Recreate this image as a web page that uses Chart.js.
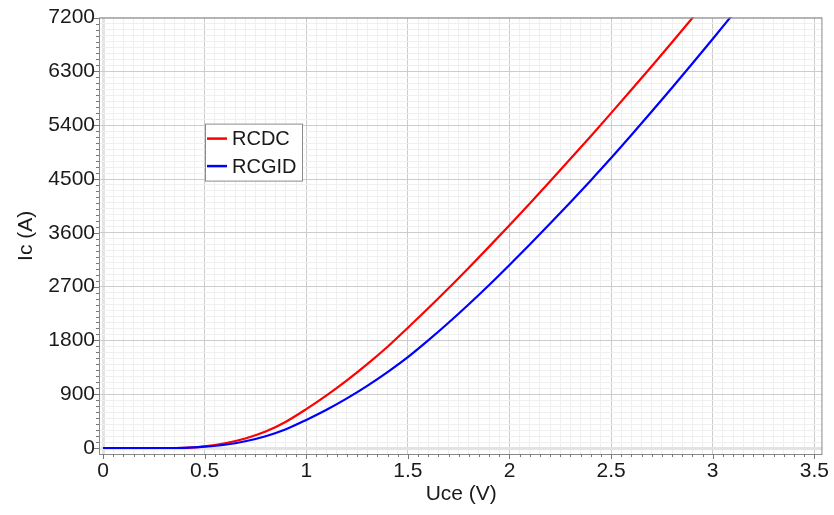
<!DOCTYPE html>
<html>
<head>
<meta charset="utf-8">
<script src="https://cdn.jsdelivr.net/npm/chart.js@4.4.1/dist/chart.umd.min.js"></script>
<style>
  html, body { margin: 0; padding: 0; background: #fff; }
  #wrap { width: 834px; height: 515px; }
</style>
</head>
<body>
<div id="wrap"><canvas id="icChart" width="834" height="515"></canvas></div>
<script>
// Collector-emitter voltage samples (V)
var uceRCDC  = [0, 0.1, 0.2, 0.3, 0.4, 0.5, 0.6, 0.7, 0.8, 0.9, 1.0, 1.1, 1.2, 1.3, 1.4, 1.5,
                1.6, 1.7, 1.8, 1.9, 2.0, 2.1, 2.2, 2.3, 2.4, 2.5, 2.6, 2.7, 2.8, 2.9, 3.0];
var uceRCGID = [0, 0.1, 0.2, 0.3, 0.4, 0.5, 0.6, 0.7, 0.8, 0.9, 1.0, 1.1, 1.2, 1.3, 1.4, 1.5,
                1.6, 1.7, 1.8, 1.9, 2.0, 2.1, 2.2, 2.3, 2.4, 2.5, 2.6, 2.7, 2.8, 2.9, 3.0, 3.1];

// Collector current (A)
var icRCDC  = [0, 0, 0, 0, 4, 28, 80, 160, 275, 440, 650, 880, 1130, 1402, 1694, 2012,
               2337, 2672, 3017, 3369, 3727, 4092, 4462, 4837, 5217, 5602, 5992, 6387, 6787, 7192, 7602];
var icRCGID = [0, 0, 0, 0, 3, 22, 55, 113, 198, 315, 470, 640, 830, 1040, 1270, 1520,
               1800, 2095, 2405, 2727, 3062, 3405, 3755, 4112, 4477, 4850, 5235, 5628, 6028, 6433, 6843, 7258];

var seriesNames = ["RCDC", "RCGID"];
var seriesColors = ["#ff0000", "#0000ff"];

// axis ticks: majors carry labels, minors only grid
var xMajorStep = 0.5, xMinorStep = 0.05, xMaxTick = 3.5;
var yMajorStep = 900, yMinorStep = 100, yMaxTick = 7200;

var FONT = "'Liberation Sans', Arial, sans-serif";

function pts(xs, ys) {
  return xs.map(function (x, i) { return { x: x, y: ys[i] }; });
}

function isMajor(v, step) {
  var r = v / step;
  return Math.abs(r - Math.round(r)) < 1e-6;
}

function buildTicks(step, max) {
  var out = [];
  var n = Math.round(max / step);
  for (var i = 0; i <= n; i++) out.push({ value: +(i * step).toFixed(4) });
  return out;
}

function gridColor(step) {
  return function (ctx) {
    var v = ctx.tick ? ctx.tick.value : 0;
    if (v === 0) return '#e3e3e3';
    return isMajor(v, step) ? '#cccccc' : '#efefef';
  };
}
function gridWidth(ctx) {
  return ctx.tick && ctx.tick.value === 0 ? 3 : 1;
}

// frame, small tick marks and the boxed legend
var decorations = {
  id: 'decorations',
  afterDraw: function (chart) {
    var c = chart.ctx, a = chart.chartArea;
    var xs = chart.scales.x, ys = chart.scales.y;
    c.save();
    c.strokeStyle = '#8a8a8a';
    c.lineWidth = 1;
    c.strokeRect(a.left - 0.5, a.top + 0.5, a.right - a.left, a.bottom - a.top);

    c.strokeStyle = '#777';
    c.beginPath();
    xs.ticks.forEach(function (t) {
      var px = Math.round(xs.getPixelForValue(t.value)) + 0.5;
      var len = isMajor(t.value, xMajorStep) ? 5 : 3;
      c.moveTo(px, a.bottom);
      c.lineTo(px, a.bottom + len);
    });
    ys.ticks.forEach(function (t) {
      var py = Math.round(ys.getPixelForValue(t.value)) + 0.5;
      var len = isMajor(t.value, yMajorStep) ? 5 : 3;
      c.moveTo(a.left - 1, py);
      c.lineTo(a.left - 1 - len, py);
    });
    c.stroke();

    // legend box
    var bx = a.left + 105, by = a.top + 106, bw = 97, bh = 57;
    c.fillStyle = '#fff';
    c.fillRect(bx, by, bw, bh);
    c.strokeStyle = '#8a8a8a';
    c.strokeRect(bx + 0.5, by + 0.5, bw, bh);
    c.font = '20px ' + FONT;
    c.textBaseline = 'middle';
    chart.data.datasets.forEach(function (ds, i) {
      var ly = by + 15 + i * 27.5;
      c.strokeStyle = ds.borderColor;
      c.lineWidth = 2.5;
      c.beginPath();
      c.moveTo(bx + 2, ly);
      c.lineTo(bx + 22, ly);
      c.stroke();
      c.fillStyle = '#1a1a1a';
      c.fillText(ds.label, bx + 27, ly + 1);
    });
    c.restore();
  }
};

var ctx = document.getElementById('icChart').getContext('2d');
var icChart = new Chart(ctx, {
  type: 'line',
  data: {
    datasets: [{
      label: seriesNames[0],
      data: pts(uceRCDC, icRCDC),
      borderColor: seriesColors[0],
      borderWidth: 2.2,
      pointRadius: 0,
      cubicInterpolationMode: 'monotone',
      order: 1,
      clip: 0
    }, {
      label: seriesNames[1],
      data: pts(uceRCGID, icRCGID),
      borderColor: seriesColors[1],
      borderWidth: 2.2,
      pointRadius: 0,
      cubicInterpolationMode: 'monotone',
      order: 0,
      clip: 0
    }]
  },
  options: {
    responsive: false,
    animation: false,
    layout: { padding: { top: 13, right: 9, left: 0, bottom: 0 } },
    plugins: {
      legend: { display: false },
      tooltip: { enabled: false }
    },
    scales: {
      x: {
        type: 'linear',
        min: -0.015,
        max: 3.54,
        afterBuildTicks: function (scale) { scale.ticks = buildTicks(xMinorStep, xMaxTick); },
        afterFit: function (scale) { scale.height = 61; },
        grid: { color: gridColor(xMajorStep), lineWidth: gridWidth, drawTicks: false },
        border: { display: false },
        ticks: {
          autoSkip: false,
          maxRotation: 0,
          padding: 5,
          color: '#1a1a1a',
          font: { family: FONT, size: 21 },
          callback: function (v) { return isMajor(v, xMajorStep) ? String(+v.toFixed(2)) : ''; }
        },
        title: {
          display: true,
          text: 'Uce (V)',
          color: '#1a1a1a',
          font: { family: FONT, size: 21 },
          padding: { top: 0, bottom: 8 }
        }
      },
      y: {
        type: 'linear',
        min: -100,
        max: 7200,
        afterBuildTicks: function (scale) { scale.ticks = buildTicks(yMinorStep, yMaxTick); },
        afterFit: function (scale) { scale.width = 100; },
        grid: { color: gridColor(yMajorStep), lineWidth: gridWidth, drawTicks: false },
        border: { display: false },
        ticks: {
          autoSkip: false,
          padding: 5,
          color: '#1a1a1a',
          font: { family: FONT, size: 21 },
          callback: function (v) { return isMajor(v, yMajorStep) ? String(v) : ''; }
        },
        title: {
          display: true,
          text: 'Ic (A)',
          color: '#1a1a1a',
          font: { family: FONT, size: 21 },
          padding: { top: 14, bottom: 0 }
        }
      }
    }
  },
  plugins: [decorations]
});
</script>
</body>
</html>
